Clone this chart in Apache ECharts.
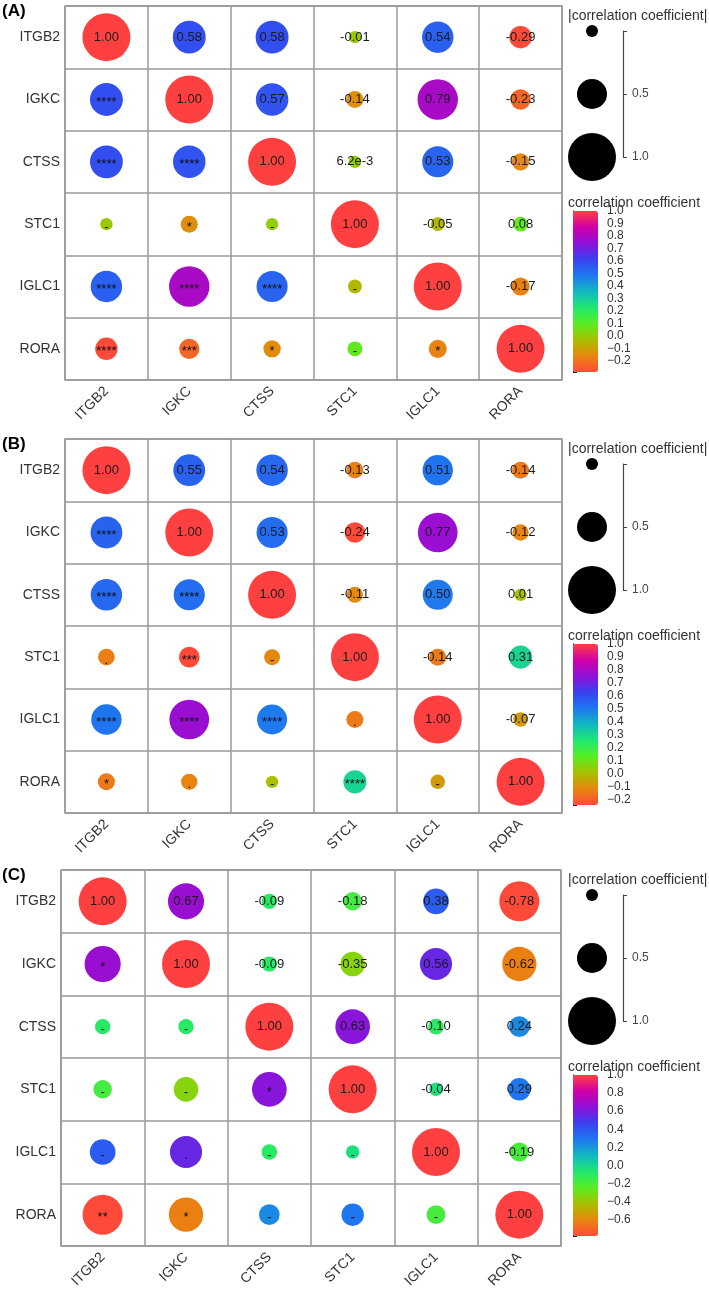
<!DOCTYPE html>
<html>
<head>
<meta charset="utf-8">
<title>correlation plots</title>
<script src="https://cdn.jsdelivr.net/npm/echarts@6/dist/echarts.min.js"></script>
<style>
  html, body { margin: 0; padding: 0; background: #fff; }
  #chart { width: 709px; height: 1291px; }
</style>
</head>
<body>
<div id="chart"></div>
<script>
// genes, same order on both axes in every panel
const genes = ['ITGB2', 'IGKC', 'CTSS', 'STC1', 'IGLC1', 'RORA']

// (A) correlation matrix
const corrA = [
  [1.00, 0.58, 0.58, -0.01, 0.54, -0.29],
  [0.58, 1.00, 0.57, -0.14, 0.79, -0.23],
  [0.58, 0.57, 1.00, 0.0062, 0.53, -0.15],
  [-0.01, -0.14, 0.0062, 1.00, -0.05, 0.08],
  [0.54, 0.79, 0.53, -0.05, 1.00, -0.17],
  [-0.29, -0.23, -0.15, 0.08, -0.17, 1.00]
]
// (A) significance marks, lower triangle
const starsA = [
  [],
  ['****'],
  ['****', '****'],
  ['-', '*', '-'],
  ['****', '****', '****', '-'],
  ['****', '***', '*', '-', '*']
]

// (B)
const corrB = [
  [1.00, 0.55, 0.54, -0.13, 0.51, -0.14],
  [0.55, 1.00, 0.53, -0.24, 0.77, -0.12],
  [0.54, 0.53, 1.00, -0.11, 0.50, 0.01],
  [-0.13, -0.24, -0.11, 1.00, -0.14, 0.31],
  [0.51, 0.77, 0.50, -0.14, 1.00, -0.07],
  [-0.14, -0.12, 0.01, 0.31, -0.07, 1.00]
]
const starsB = [
  [],
  ['****'],
  ['****', '****'],
  ['.', '***', '-'],
  ['****', '****', '****', '.'],
  ['*', '.', '-', '****', '-']
]

// (C)
const corrC = [
  [1.00, 0.67, -0.09, -0.18, 0.38, -0.78],
  [0.67, 1.00, -0.09, -0.35, 0.56, -0.62],
  [-0.09, -0.09, 1.00, 0.63, -0.10, 0.24],
  [-0.18, -0.35, 0.63, 1.00, -0.04, 0.29],
  [0.38, 0.56, -0.10, -0.04, 1.00, -0.19],
  [-0.78, -0.62, 0.24, 0.29, -0.19, 1.00]
]
const starsC = [
  [],
  ['*'],
  ['-', '-'],
  ['-', '-', '*'],
  ['-', '.', '-', '-'],
  ['**', '*', '-', '-', '-']
]

// legend tick values
const colorTicksAB = [-0.2, -0.1, 0.0, 0.1, 0.2, 0.3, 0.4, 0.5, 0.6, 0.7, 0.8, 0.9, 1.0]
const colorTicksC = [-0.6, -0.4, -0.2, 0.0, 0.2, 0.4, 0.6, 0.8, 1.0]
const sizeTicks = [0, 0.5, 1.0]
const sizeTickLabels = [0.5, 1.0]

const palette = ['#ff4a3a', '#e8860e', '#a8c000', '#58ee22', '#20e870', '#10b8c0',
  '#1e78f0', '#3a40f0', '#9010d8', '#d000a8', '#ff4040']
const font = '"Liberation Sans", Arial, sans-serif'
const gridLine = '#999'

const symSize = v => 12 + 36 * Math.abs(v)
const fmtNum = v => (v !== 0 && Math.abs(v) < 0.01) ? v.toExponential(1) : v.toFixed(2)
const fmtTick = v => (v < 0 ? '\u2212' + Math.abs(v).toFixed(1) : v.toFixed(1))

const panels = [
  { tag: '(A)', corr: corrA, stars: starsA, ticks: colorTicksAB, left: 65, top: 6, width: 497, height: 374 },
  { tag: '(B)', corr: corrB, stars: starsB, ticks: colorTicksAB, left: 65, top: 439, width: 497, height: 374 },
  { tag: '(C)', corr: corrC, stars: starsC, ticks: colorTicksC, left: 61, top: 870, width: 500, height: 376 }
]

const grid = [], xAxis = [], yAxis = [], series = [], visualMap = [], graphic = []

panels.forEach((p, k) => {
  const minV = Math.min(...p.corr.flat())
  const g = grid.length

  // main matrix
  grid.push({ left: p.left, top: p.top, width: p.width, height: p.height,
    show: true, borderColor: gridLine, borderWidth: 1.5 })
  xAxis.push({ type: 'category', gridIndex: g, data: genes,
    axisLine: { show: false }, axisTick: { show: false },
    splitLine: { show: true, lineStyle: { color: gridLine, width: 1.5 } },
    axisLabel: { rotate: 45, margin: 9, fontSize: 14, color: '#333', fontFamily: font } })
  yAxis.push({ type: 'category', gridIndex: g, data: genes, inverse: true,
    axisLine: { show: false }, axisTick: { show: false },
    splitLine: { show: true, lineStyle: { color: gridLine, width: 1.5 } },
    axisLabel: { margin: 5, fontSize: 14, color: '#333', fontFamily: font } })

  const upper = [], lower = []
  p.corr.forEach((row, i) => row.forEach((v, j) => {
    if (j >= i) upper.push([genes[j], genes[i], v])
    else lower.push([genes[j], genes[i], v, p.stars[i][j]])
  }))
  const su = series.length
  series.push({ type: 'scatter', xAxisIndex: g, yAxisIndex: g, data: upper,
    symbolSize: d => symSize(d[2]), itemStyle: { opacity: 1 },
    label: { show: true, position: 'inside', formatter: q => fmtNum(q.data[2]),
      fontSize: 13, color: '#1a1a1a', fontFamily: font } })
  series.push({ type: 'scatter', xAxisIndex: g, yAxisIndex: g, data: lower,
    symbolSize: d => symSize(d[2]), itemStyle: { opacity: 1 },
    label: { show: true, position: 'inside', formatter: q => q.data[3], offset: [0, 3],
      fontSize: 13, color: '#111', fontFamily: font } })

  // colour bar + its axis
  const barTop = p.top + 205
  visualMap.push({ type: 'continuous', seriesIndex: [su, su + 1], dimension: 2,
    min: minV, max: 1, calculable: false, hoverLink: false, left: 573, top: barTop,
    itemWidth: 25, itemHeight: 161, padding: 0, inRange: { color: palette } })
  const gc = grid.length
  grid.push({ left: 573, top: barTop, width: 25, height: 161 })
  xAxis.push({ type: 'value', gridIndex: gc, show: false })
  yAxis.push({ type: 'value', gridIndex: gc, min: minV, max: 1, position: 'right', offset: 3,
    axisLine: { show: true, lineStyle: { color: '#222', width: 1 } },
    axisTick: { show: true, length: 4, customValues: p.ticks.concat([minV]), lineStyle: { color: '#222' } },
    axisLabel: { customValues: p.ticks, formatter: fmtTick, margin: 6, fontSize: 12, color: '#333', fontFamily: font },
    splitLine: { show: false } })

  // size legend
  const gs = grid.length
  grid.push({ left: 568, top: p.top + 25, width: 48, height: 126 })
  xAxis.push({ type: 'category', gridIndex: gs, data: ['s'], show: false })
  yAxis.push({ type: 'value', gridIndex: gs, min: 0, max: 1, inverse: true, position: 'right', offset: 7,
    axisLine: { show: true, lineStyle: { color: '#444', width: 1.2 } },
    axisTick: { show: true, length: 4, customValues: sizeTicks, lineStyle: { color: '#444' } },
    axisLabel: { customValues: sizeTickLabels, formatter: v => v.toFixed(1), margin: 9, fontSize: 12, color: '#444', fontFamily: font },
    splitLine: { show: false } })
  series.push({ type: 'scatter', xAxisIndex: gs, yAxisIndex: gs,
    data: sizeTicks.map(v => ['s', v]), symbolSize: d => symSize(d[1]),
    itemStyle: { color: '#000', opacity: 1 } })

  graphic.push({ type: 'text', left: 2, top: p.top - 3,
    style: { text: p.tag, font: 'bold 17px ' + font, fill: '#000' } })
  graphic.push({ type: 'text', left: 568, top: p.top + 3,
    style: { text: '|correlation coefficient|', font: '14px ' + font, fill: '#333' } })
  graphic.push({ type: 'text', left: 568, top: p.top + 190,
    style: { text: 'correlation coefficient', font: '14px ' + font, fill: '#333' } })
})

const chart = echarts.init(document.getElementById('chart'))
chart.setOption({
  backgroundColor: '#fff',
  animation: false,
  grid, xAxis, yAxis, series, visualMap, graphic
})
</script>
</body>
</html>
